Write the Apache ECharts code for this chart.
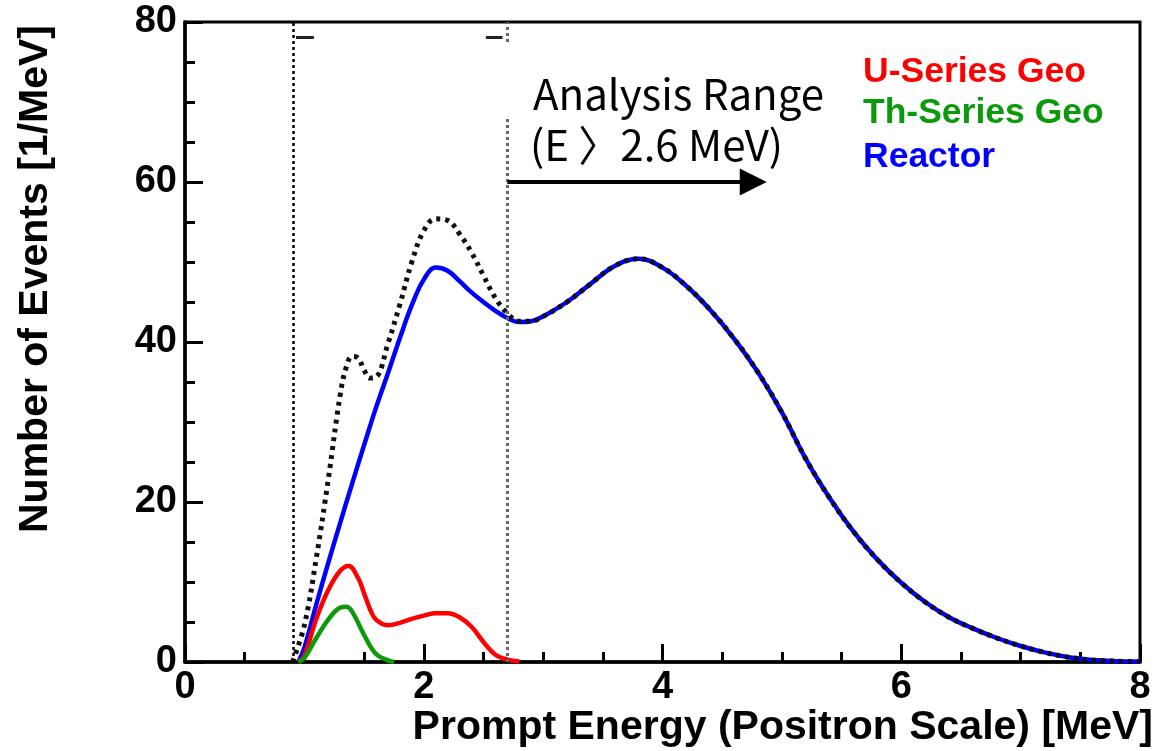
<!DOCTYPE html>
<html>
<head>
<meta charset="utf-8">
<script src="https://cdn.jsdelivr.net/npm/echarts@6/dist/echarts.min.js"></script>
<style>
html,body{margin:0;padding:0;background:#fff;}
#chart{width:1167px;height:751px;}
</style>
</head>
<body>
<div id="chart"></div>
<script>
// ---- Data ----
const energyReactor = [0.95,1.0,1.1,1.2,1.3,1.4,1.5,1.6,1.7,1.8,1.9,2.0,2.1,2.2,2.3,2.4,2.5,2.6,2.7,2.8,2.9,3.0,3.2,3.4,3.6,3.8,4.0,4.2,4.4,4.6,4.8,5.0,5.2,5.4,5.6,5.8,6.0,6.2,6.4,6.6,6.8,7.0,7.2,7.4,7.6,7.8,8.0];
const reactor = [0,1.8,7.2,12.4,17.4,22.3,27.1,31.8,36.1,40.5,44.6,47.8,49.3,48.9,47.6,46.2,45.0,43.9,43.0,42.5,42.6,43.2,45.0,47.3,49.5,50.4,49.3,47.0,44.0,40.4,36.2,31.2,25.4,20.5,16.3,12.8,9.9,7.5,5.6,4.2,3.0,2.0,1.2,0.6,0.25,0.1,0.05];

const energyTotal = [0.9,1.0,1.1,1.2,1.3,1.35,1.4,1.45,1.5,1.55,1.6,1.7,1.8,1.9,2.0,2.1,2.2,2.3,2.4,2.5,2.6,2.7,2.8,2.9,3.0,3.2,3.4,3.6,3.8,4.0,4.2,4.4,4.6,4.8,5.0,5.2,5.4,5.6,5.8,6.0,6.2,6.4,6.6,6.8,7.0,7.2,7.4,7.6,7.8,8.0];
const total = [0,4.6,13.0,22.8,33.4,36.8,38.2,38.0,36.5,35.5,35.6,39.8,44.7,50.0,53.9,55.4,55.2,53.5,51.2,48.3,45.5,43.6,42.6,42.6,43.2,45.0,47.3,49.5,50.4,49.3,47.0,44.0,40.4,36.2,31.2,25.4,20.5,16.3,12.8,9.9,7.5,5.6,4.2,3.0,2.0,1.2,0.6,0.25,0.1,0.05];

const energyU = [0.95,1.0,1.1,1.2,1.3,1.37,1.45,1.5,1.55,1.6,1.7,1.8,1.9,2.0,2.1,2.2,2.3,2.4,2.5,2.6,2.7,2.8];
const uSeries = [0,0.8,5.4,9.0,11.4,12.0,10.5,8.6,6.6,5.3,4.6,4.9,5.4,5.8,6.1,6.1,5.6,4.4,2.5,0.9,0.3,0.05];

const energyTh = [0.95,1.0,1.1,1.2,1.3,1.35,1.4,1.5,1.6,1.7,1.75];
const thSeries = [0,0.5,3.0,5.3,6.8,6.9,6.3,3.4,1.0,0.2,0];

const legendNames = ['U-Series Geo','Th-Series Geo','Reactor'];
const lowerCut = 0.91;      // left dotted line [MeV]
const analysisCut = 2.7;    // right dotted line [MeV]
const arrowLevel = 60;      // arrow height [1/MeV]
const arrowEnd = 4.76;      // arrow end [MeV]

const pairs = (xs, ys) => xs.map((x, i) => [x, ys[i]]);

const chart = echarts.init(document.getElementById('chart'), null, {renderer: 'canvas'});
const bold = '"Liberation Sans", Arial, Helvetica, sans-serif';
const jp = '"Noto Sans CJK JP", "Noto Sans", sans-serif';

chart.setOption({
  animation: false,
  backgroundColor: '#fff',
  grid: {left: 185, top: 22, right: 27, bottom: 89, show: true, borderColor: '#000', borderWidth: 3, backgroundColor: 'transparent'},
  xAxis: {
    type: 'value', min: 0, max: 8, interval: 2,
    axisLine: {show: true, onZero: false, lineStyle: {color: '#000', width: 3.5}},
    axisTick: {show: true, inside: true, length: 18, lineStyle: {color: '#000', width: 3}},
    minorTick: {show: true, splitNumber: 4, length: 10, lineStyle: {color: '#000', width: 3}},
    splitLine: {show: false},
    axisLabel: {color: '#000', fontFamily: bold, fontWeight: 'bold', fontSize: 38, margin: 7}
  },
  yAxis: {
    type: 'value', min: 0, max: 80, interval: 20,
    axisLine: {show: true, lineStyle: {color: '#000', width: 3.5}},
    axisTick: {show: true, inside: true, length: 18, lineStyle: {color: '#000', width: 3}},
    minorTick: {show: true, splitNumber: 4, length: 10, lineStyle: {color: '#000', width: 3}},
    splitLine: {show: false},
    axisLabel: {color: '#000', fontFamily: bold, fontWeight: 'bold', fontSize: 38, margin: 8}
  },
  series: [
    {
      name: legendNames[2], type: 'line', data: pairs(energyReactor, reactor),
      smooth: 0.4, showSymbol: false, z: 3,
      lineStyle: {color: '#0000ff', width: 4.5}
    },
    {
      name: legendNames[0], type: 'line', data: pairs(energyU, uSeries),
      smooth: 0.4, showSymbol: false, z: 3,
      lineStyle: {color: '#ff0000', width: 4.5}
    },
    {
      name: legendNames[1], type: 'line', data: pairs(energyTh, thSeries),
      smooth: 0.4, showSymbol: false, z: 3,
      lineStyle: {color: '#0a9a0a', width: 4.5}
    },
    {
      name: 'Total', type: 'line', data: pairs(energyTotal, total),
      smooth: 0.4, showSymbol: false, z: 4,
      lineStyle: {color: '#111', width: 5, type: [4, 5]},
      markLine: {
        silent: true, symbol: 'none', label: {show: false},
        data: [
          [{coord: [lowerCut, 0], lineStyle: {color: '#000', width: 2.5, type: [3, 3]}}, {coord: [lowerCut, 80]}],
          [{coord: [analysisCut, 0], lineStyle: {color: '#666', width: 3, type: [3, 3]}}, {coord: [analysisCut, 68]}],
          [{coord: [analysisCut, 77.5], lineStyle: {color: '#666', width: 3, type: [3, 3]}}, {coord: [analysisCut, 80]}],
          [{coord: [0.93, 78.1], lineStyle: {color: '#222', width: 3, type: 'solid'}}, {coord: [1.08, 78.1]}],
          [{coord: [2.52, 78.1], lineStyle: {color: '#222', width: 3, type: 'solid'}}, {coord: [2.66, 78.1]}],
          [{coord: [analysisCut, arrowLevel], symbol: 'none', lineStyle: {color: '#000', width: 4, type: 'solid'}},
           {coord: [arrowEnd, arrowLevel], symbol: 'triangle', symbolSize: 27}]
        ]
      }
    }
  ],
  graphic: [
    {type: 'text', x: 36, y: 279, rotation: Math.PI / 2,
     style: {text: 'Number of Events [1/MeV]', fill: '#000', font: 'bold 41px ' + bold, align: 'center', verticalAlign: 'middle'}},
    {type: 'text', x: 1153, y: 728,
     style: {text: 'Prompt Energy (Positron Scale) [MeV]', fill: '#000', font: 'bold 41px ' + bold, align: 'right', verticalAlign: 'middle'}},
    {type: 'text', x: 863, y: 72,
     style: {text: legendNames[0], fill: '#ff0000', font: 'bold 35.5px ' + bold, align: 'left', verticalAlign: 'middle'}},
    {type: 'text', x: 863, y: 113,
     style: {text: legendNames[1], fill: '#0a9a0a', font: 'bold 35.5px ' + bold, align: 'left', verticalAlign: 'middle'}},
    {type: 'text', x: 863, y: 157,
     style: {text: legendNames[2], fill: '#0000ff', font: 'bold 35.5px ' + bold, align: 'left', verticalAlign: 'middle'}},
    {type: 'text', x: 533, y: 94,
     style: {text: 'Analysis Range', fill: '#000', font: '42px ' + jp, align: 'left', verticalAlign: 'middle'}},
    {type: 'text', x: 530, y: 145,
     style: {text: '(E 〉2.6 MeV)', fill: '#000', font: '42px ' + jp, align: 'left', verticalAlign: 'middle'}}
  ]
});
</script>
</body>
</html>
